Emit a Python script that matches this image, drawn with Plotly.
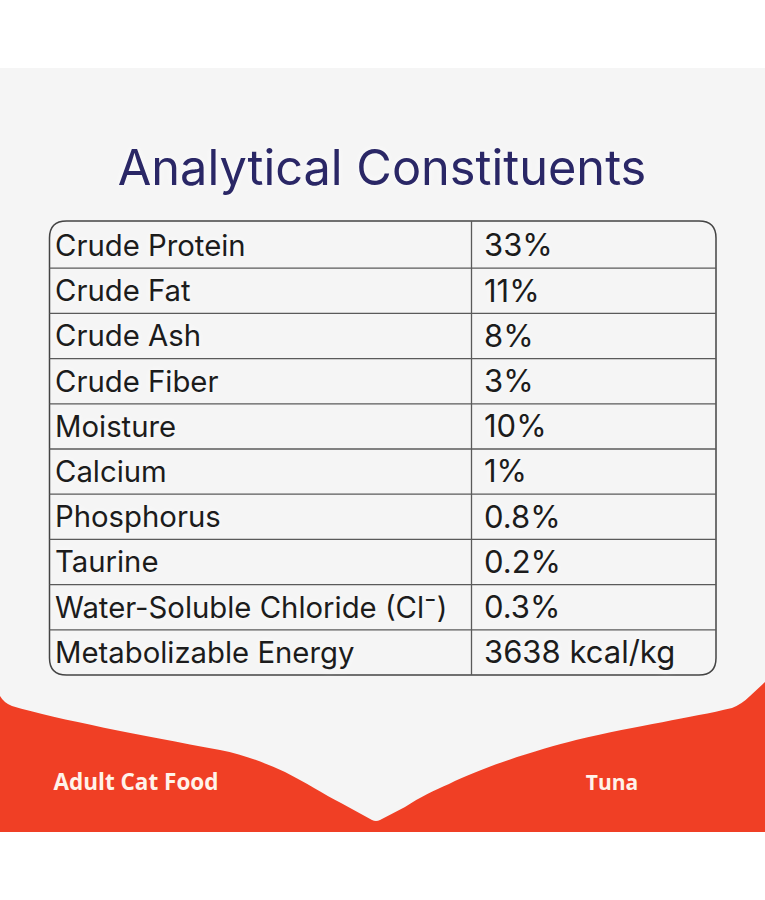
import plotly.graph_objects as go

title_text = "Analytical Constituents"
constituents = ["Crude Protein", "Crude Fat", "Crude Ash", "Crude Fiber", "Moisture", "Calcium",
                "Phosphorus", "Taurine", "Water-Soluble Chloride (Cl⁻)", "Metabolizable Energy"]
amounts = ["33%", "11%", "8%", "3%", "10%", "1%", "0.8%", "0.2%", "0.3%", "3638 kcal/kg"]
footer_left = "Adult Cat Food"
footer_right = "Tuna"

W, H = 765, 900
TOP, BOTTOM = 223, 675
TEXT_SHIFT = 3
L, R, COL = 49.5, 716, 471.5
BODY = "Inter, 'Noto Sans', sans-serif"
INK = "#1c1c1c"
HALO = "0 0 7px rgba(255,255,255,0.9)"

fig = go.Figure()
fig.add_trace(go.Scatter(x=[55] * len(constituents), y=constituents, yaxis="y3", mode="text",
                         text=constituents, textposition="middle right", cliponaxis=False,
                         textfont=dict(family=BODY, size=29.3, color=INK, shadow=HALO), hoverinfo="skip"))
fig.add_trace(go.Scatter(x=[484] * len(amounts), y=constituents, yaxis="y3", mode="text",
                         text=amounts, textposition="middle right", cliponaxis=False,
                         textfont=dict(family=BODY, size=31, color=INK, shadow=HALO), hoverinfo="skip"))
fig.add_trace(go.Scatter(x=[382], y=[173], mode="text", text=[title_text], textposition="middle center",
                         textfont=dict(family=BODY, size=48.7, color="#2a2766", shadow=HALO), hoverinfo="skip"))
fig.add_trace(go.Scatter(x=[136], y=[784], mode="text", text=[footer_left],
                         textposition="middle center",
                         textfont=dict(family="'Open Sans', sans-serif", size=22.5, color="#fff3ea", weight="bold"),
                         hoverinfo="skip"))
fig.add_trace(go.Scatter(x=[612], y=[785], mode="text", text=[footer_right],
                         textposition="middle center",
                         textfont=dict(family="'Open Sans', sans-serif", size=21, color="#fff3ea", weight="bold"),
                         hoverinfo="skip"))

red = ("M0,696 Q4,703 12,706 C60,720 140,735 220,750 C245,755 265,763 285,772 C305,782 325,795 341,803 "
       "L372,820 Q376,822 380,820 L405,807 C420,797 435,790 449,784 C485,766 540,749 576,740 "
       "C640,725 690,718 732,708 Q742,704 750,696 L765,682 L765,832 L0,832 Z")
r = 17
outline = (f"M{L + r},221 L{R - r},221 Q{R},221 {R},{221 + r} L{R},{675 - r} Q{R},675 {R - r},675 "
           f"L{L + r},675 Q{L},675 {L},{675 - r} L{L},{221 + r} Q{L},221 {L + r},221 Z")
line = dict(color="#5a5a5a", width=1.3)
shapes = [
    dict(type="rect", xref="x", yref="y", x0=0, x1=W, y0=68, y1=832, fillcolor="#f5f5f5", line_width=0, layer="below"),
    dict(type="path", xref="x", yref="y", path=red, fillcolor="#f03f25", line_width=0, layer="below"),
    dict(type="path", xref="x", yref="y", path=outline, line=dict(color="#444444", width=1.5), layer="below"),
    dict(type="line", xref="x", yref="y", x0=COL, x1=COL, y0=221, y1=675, line=line, layer="below"),
]
for i in range(len(constituents) - 1):
    shapes.append(dict(type="line", xref="x", yref="y2", x0=L, x1=R, y0=i + 0.5, y1=i + 0.5, line=line, layer="below"))

hidden = dict(visible=False, showgrid=False, zeroline=False)
row_axis = dict(type="category", categoryorder="array", categoryarray=constituents,
                range=[len(constituents) - 0.5, -0.5], anchor="x", **hidden)
fig.update_layout(
    width=W, height=H, margin=dict(l=0, r=0, t=0, b=0), showlegend=False,
    paper_bgcolor="#ffffff", plot_bgcolor="rgba(0,0,0,0)", shapes=shapes,
    xaxis=dict(range=[0, W], **hidden),
    yaxis=dict(range=[H, 0], domain=[0, 1], **hidden),
    yaxis2=dict(domain=[1 - BOTTOM / H, 1 - TOP / H], **row_axis),
    yaxis3=dict(domain=[1 - (BOTTOM + TEXT_SHIFT) / H, 1 - (TOP + TEXT_SHIFT) / H], **row_axis),
)
fig.write_html("out.html", config={"displayModeBar": False},
               post_script="document.body.style.margin='0';")
